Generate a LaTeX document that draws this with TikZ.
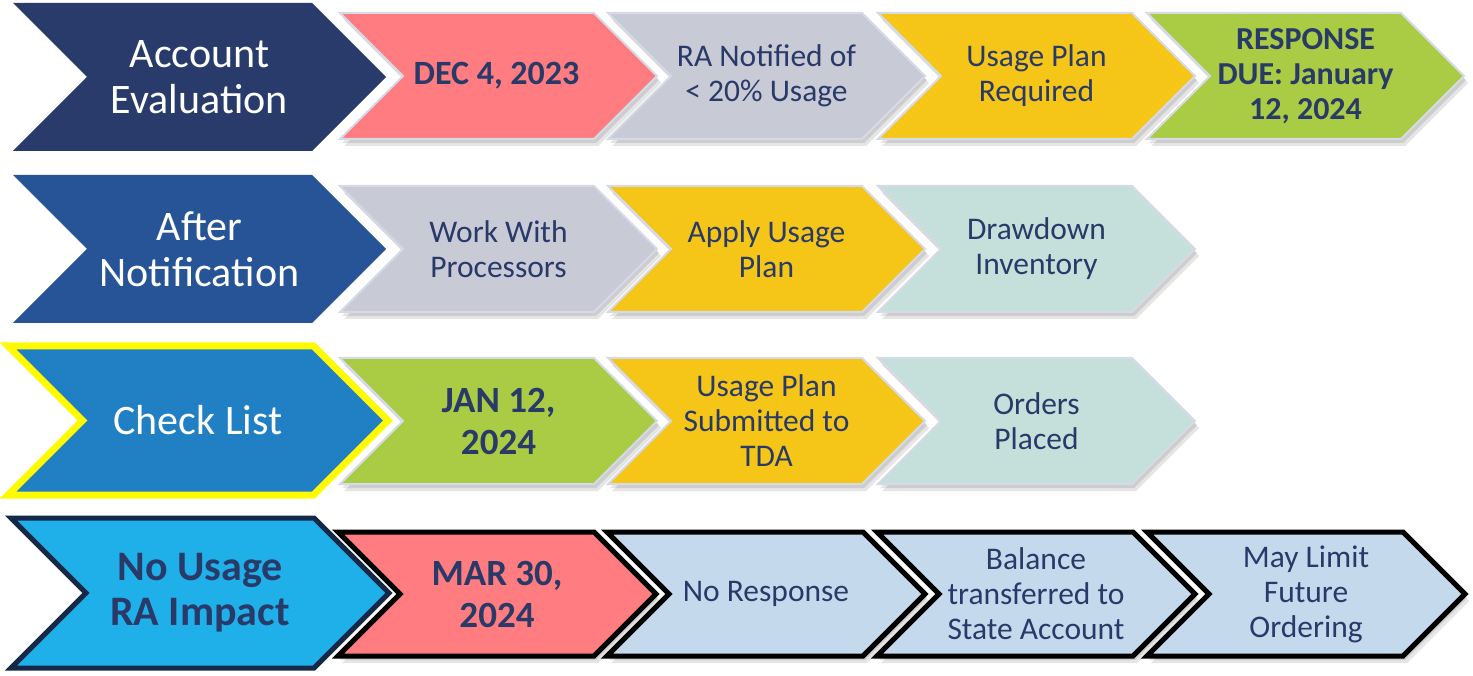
\documentclass[tikz,border=0pt]{standalone}
\usepackage{fontspec}
\setmainfont{Carlito}
\definecolor{navy}{RGB}{40,59,107}
\definecolor{anblue}{RGB}{38,84,150}
\definecolor{clblue}{RGB}{33,128,195}
\definecolor{nublue}{RGB}{31,176,233}
\definecolor{nuborder}{RGB}{20,40,72}
\definecolor{cpink}{RGB}{255,124,128}
\definecolor{cgray}{RGB}{200,202,214}
\definecolor{cyellow}{RGB}{245,197,24}
\definecolor{cgreen}{RGB}{170,204,68}
\definecolor{cteal}{RGB}{197,224,218}
\definecolor{clight}{RGB}{197,217,236}
\definecolor{txt}{RGB}{41,58,105}
\definecolor{bevel}{RGB}{214,218,232}
\definecolor{yborder}{RGB}{255,250,0}
% chevron path: x-left, y-top, width, height
\newcommand\chevpath[4]{(#1,#2) -- ++(#3-#4/2,0) -- ++(#4/2,#4/2) -- ++(-#4/2,#4/2) -- ++(#4/2-#3,0) -- ++(#4/2,-#4/2) -- cycle}
\newcommand\chevshadow[4]{%
  \fill[black,opacity=0.10,xshift=2pt,yshift=-4pt] \chevpath{#1}{#2}{#3}{#4};
  \fill[black,opacity=0.10,xshift=4pt,yshift=-7pt] \chevpath{#1}{#2}{#3}{#4};
}
\begin{document}
\begin{tikzpicture}[x=1pt,y=-1pt,
  bigtxt/.style={text=white,font=\fontsize{42}{46}\selectfont,align=center},
  bigbold/.style={text=txt,font=\fontsize{42}{45}\selectfont\bfseries,align=center},
  smalltxt/.style={text=txt,font=\fontsize{31.5}{35}\selectfont,align=center},
  smallbold/.style={text=txt,font=\fontsize{#1}{35}\selectfont\bfseries,align=center},
  datebold/.style={text=txt,font=\fontsize{37}{42}\selectfont\bfseries,align=center},
  soft/.style={fill=#1,draw=bevel,line width=2pt,line join=miter},
  heavy/.style={fill=#1,draw=black,line width=5pt,line join=miter}]
\useasboundingbox[fill=white] (0,0) rectangle (1473,676);

% ---------- shadows ----------
\foreach \xx in {340,608,878,1147}{\chevshadow{\xx}{13}{317}{126}}
\foreach \xx in {340,608,878}{\chevshadow{\xx}{186}{317}{126}}
\foreach \xx in {340,608,878}{\chevshadow{\xx}{358}{317}{126}}
\foreach \xx in {338,607,877,1147}{\chevshadow{\xx}{532}{318}{124}}

% ---------- Row 1 ----------
\fill[navy] \chevpath{13}{3}{373}{148};
\node[bigtxt] (acct) at (13+373/2,77) {Account\\Evaluation};
\path[soft=cpink] \chevpath{340}{13}{317}{126};
\node[smallbold=34] (dec) at (338+317/2,76) {DEC 4, 2023};
\path[soft=cgray] \chevpath{608}{13}{317}{126};
\node[smalltxt] (notified) at (608+317/2,76) {RA Notified of\\< 20\% Usage};
\path[soft=cyellow] \chevpath{878}{13}{317}{126};
\node[smalltxt] (required) at (878+317/2,76) {Usage Plan\\Required};
\path[soft=cgreen] \chevpath{1147}{13}{317}{126};
\node[smallbold=32] (due) at (1147+317/2,76) {RESPONSE\\DUE: January\\12, 2024};

% ---------- Row 2 ----------
\fill[anblue] \chevpath{13}{175}{373}{148};
\node[bigtxt] (after) at (13+373/2,249) {After\\Notification};
\path[soft=cgray] \chevpath{340}{186}{317}{126};
\node[smalltxt] (work) at (340+317/2,249) {Work With\\Processors};
\path[soft=cyellow] \chevpath{608}{186}{317}{126};
\node[smalltxt] (apply) at (608+317/2,249) {Apply Usage\\Plan};
\path[soft=cteal] \chevpath{878}{186}{317}{126};
\node[smalltxt] (drawdown) at (878+317/2,249) {Drawdown\\Inventory};

% ---------- Row 3 ----------
\path[fill=clblue,draw=yborder,line width=7pt,line join=miter] \chevpath{8}{346}{380}{149};
\node[bigtxt] (check) at (8+380/2,420) {Check List};
\path[soft=cgreen] \chevpath{340}{358}{317}{126};
\node[datebold] (jan) at (340+317/2,421) {JAN 12,\\2024};
\path[soft=cyellow] \chevpath{608}{358}{317}{126};
\node[smalltxt] (submitted) at (608+317/2,421) {Usage Plan\\Submitted to\\TDA};
\path[soft=cteal] \chevpath{878}{358}{317}{126};
\node[smalltxt] (orders) at (878+317/2,421) {Orders\\Placed};

% ---------- Row 4 ----------
\path[fill=nublue,draw=nuborder,line width=5pt,line join=miter] \chevpath{11}{518}{378}{150};
\node[bigbold] (nousage) at (11+378/2,593) {No Usage\\RA Impact};
\path[heavy=cpink] \chevpath{338}{532}{318}{124};
\node[datebold] (mar) at (338+318/2,594) {MAR 30,\\2024};
\path[heavy=clight] \chevpath{607}{532}{318}{124};
\node[smalltxt] (noresp) at (607+318/2,594) {No Response};
\path[heavy=clight] \chevpath{877}{532}{318}{124};
\node[smalltxt] (balance) at (877+318/2,594) {Balance\\transferred to\\State Account};
\path[heavy=clight] \chevpath{1147}{532}{318}{124};
\node[smalltxt] (limit) at (1147+318/2,594) {May Limit\\Future\\Ordering};
\end{tikzpicture}
\end{document}
